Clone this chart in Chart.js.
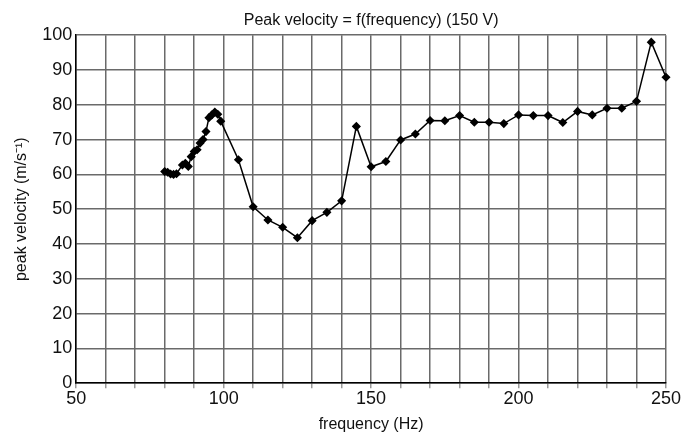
<!DOCTYPE html>
<html>
<head>
<meta charset="utf-8">
<script src="https://cdn.jsdelivr.net/npm/chart.js@4"></script>
<style>
    html, body { margin: 0; padding: 0; background: #fff; }
    #wrap { width: 683px; height: 434px; }
</style>
</head>
<body>
<div id="wrap"><canvas id="velocityChart" width="683" height="434"></canvas></div>
<script>
// Data
const frequency = [80, 81, 82, 83, 84, 86, 87, 88, 89, 90, 91, 92, 93, 94, 95, 96, 97, 98, 99,
    105, 110, 115, 120, 125, 130, 135, 140, 145, 150, 155, 160, 165, 170, 175, 180, 185, 190,
    195, 200, 205, 210, 215, 220, 225, 230, 235, 240, 245, 250];
const peakVelocity = [60.8, 60.6, 60.1, 60, 60.2, 62.7, 63.2, 62.3, 65.1, 66.6, 67.1, 69, 70, 72.3, 76.3, 77.1, 77.9, 77.3, 75.3,
    64.2, 50.7, 46.9, 44.8, 41.8, 46.7, 49.1, 52.4, 73.8, 62.2, 63.7, 69.9, 71.6, 75.5, 75.4, 76.9, 75, 75,
    74.6, 77.1, 76.9, 76.9, 74.9, 78.1, 77.1, 79, 79, 81, 98, 87.9];
const xLabels = [50, 100, 150, 200, 250];

const font = "'Liberation Sans Narrow', 'Liberation Sans', Arial, sans-serif";
const gridColor = '#6a6a6a';

const ctx = document.getElementById('velocityChart');

if(ctx) {
    let chart = new Chart(ctx, {
        type: 'line',
        data: {
            datasets: [{
                label: 'peak velocity',
                data: frequency.map((f, i) => ({x: f, y: peakVelocity[i]})),
                borderColor: '#000',
                backgroundColor: '#000',
                borderWidth: 1.5,
                pointStyle: 'rectRot',
                pointRadius: 3.5,
                pointHoverRadius: 3.5,
                tension: 0,
                clip: false
            }]
        },
        options: {
            responsive: false,
            animation: false,
            layout: {
                padding: {left: 12, right: 17, top: 11, bottom: 0}
            },
            scales: {
                x: {
                    type: 'linear',
                    min: 50,
                    max: 250,
                    ticks: {
                        stepSize: 10,
                        autoSkip: false,
                        maxRotation: 0,
                        color: '#111',
                        padding: 0,
                        font: {family: font, size: 18},
                        callback: function(value) {
                            return xLabels.includes(value) ? value : '';
                        }
                    },
                    grid: {
                        color: gridColor,
                        lineWidth: 1.5,
                        tickLength: 5,
                        tickColor: '#999'
                    },
                    border: {color: '#000', width: 1.5},
                    title: {
                        display: true,
                        text: 'frequency (Hz)',
                        color: '#111',
                        padding: {top: 5, bottom: 0},
                        font: {family: font, size: 16}
                    }
                },
                y: {
                    min: 0,
                    max: 100,
                    ticks: {
                        stepSize: 10,
                        color: '#111',
                        padding: 4,
                        font: {family: font, size: 18}
                    },
                    grid: {
                        color: gridColor,
                        lineWidth: 1.5,
                        tickLength: 0
                    },
                    border: {color: '#000', width: 1.5},
                    title: {
                        display: true,
                        text: 'peak velocity (m/s⁻¹)',
                        color: '#111',
                        padding: {top: 0, bottom: 7},
                        font: {family: font, size: 16}
                    }
                }
            },
            plugins: {
                legend: {display: false},
                tooltip: {enabled: false},
                title: {
                    display: true,
                    fullSize: false,
                    text: 'Peak velocity = f(frequency) (150 V)',
                    color: '#111',
                    padding: {top: 0, bottom: 5},
                    font: {family: font, size: 16, weight: 'normal'}
                }
            }
        }
    });
}
</script>
</body>
</html>
